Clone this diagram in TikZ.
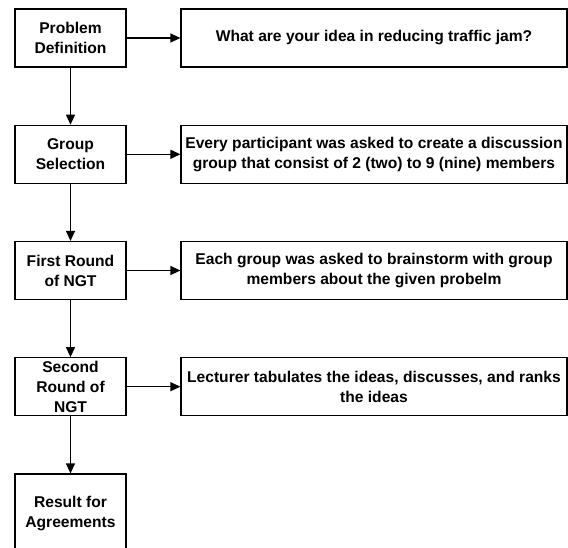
\documentclass[tikz,border=0pt]{standalone}
\usepackage{fontspec}
\setmainfont{Liberation Sans}
\usetikzlibrary{arrows.meta}

\begin{document}
\begin{tikzpicture}[x=1pt, y=-1pt,
    stage/.style={draw, line width=1.2pt, minimum width=111pt, minimum height=#1, inner sep=0pt, align=center, font=\fontsize{15.6}{20}\selectfont\bfseries},
    stage/.default=58pt,
    detail/.style={draw, line width=1.2pt, minimum width=386pt, minimum height=58pt, inner sep=0pt, align=center, font=\fontsize{15.6}{20}\selectfont\bfseries},
    flow/.style={line width=1.2pt, -{Triangle[length=10pt,width=9pt]}}
]
\useasboundingbox (0,0) rectangle (568,548);
\node[stage] (s1) at (70.5, 38) {Problem\\Definition};
\node[stage] (s2) at (70.5, 154.3) {Group\\Selection};
\node[stage] (s3) at (70.5, 270.5) {First Round\\of NGT};
\node[stage] (s4) at (70.5, 386.7) {Second\\Round of\\NGT};
\node[stage=78pt] (s5) at (70.5, 513) {Result for\\Agreements};
\node[detail] (d1) at (374, 38) {What are your idea in reducing traffic jam?};
\node[detail] (d2) at (374, 154.3) {Every participant was asked to create a discussion\\group that consist of 2 (two) to 9 (nine) members};
\node[detail] (d3) at (374, 270.5) {Each group was asked to brainstorm with group\\members about the given probelm};
\node[detail] (d4) at (374, 386.7) {Lecturer tabulates the ideas, discusses, and ranks\\the ideas};
\draw[flow] (s1) -- (d1);
\draw[flow] (s2) -- (d2);
\draw[flow] (s3) -- (d3);
\draw[flow] (s4) -- (d4);
\draw[flow] (s1) -- (s2);
\draw[flow] (s2) -- (s3);
\draw[flow] (s3) -- (s4);
\draw[flow] (s4) -- (s5);
\end{tikzpicture}
\end{document}
